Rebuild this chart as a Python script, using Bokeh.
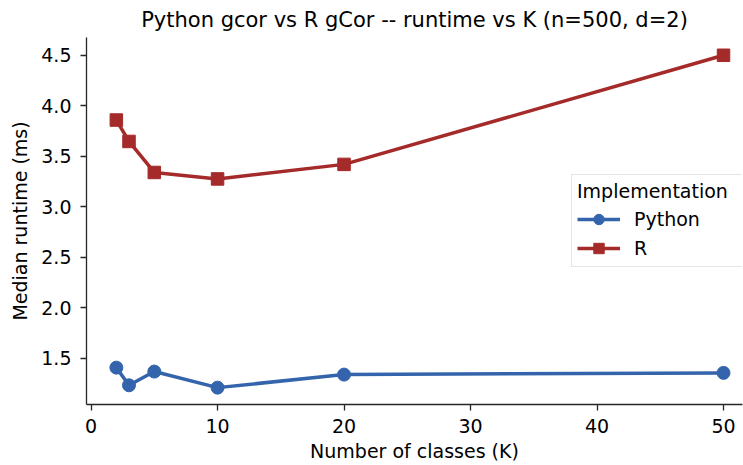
from bokeh.plotting import figure
from bokeh.models import FixedTicker, PrintfTickFormatter, Range1d, Legend, LegendItem
from bokeh.embed import file_html
from bokeh.resources import INLINE

K = [2, 3, 5, 10, 20, 50]
python_ms = [1.408, 1.233, 1.369, 1.210, 1.339, 1.356]
r_ms = [3.859, 3.647, 3.340, 3.276, 3.420, 4.500]
x_ticks = [0, 10, 20, 30, 40, 50]
y_ticks = [1.5, 2.0, 2.5, 3.0, 3.5, 4.0, 4.5]

BLUE = "#3465ac"
RED = "#a52a2a"
FONT = "DejaVu Sans"

p = figure(width=743, height=465, output_backend="svg", toolbar_location=None,
           x_range=Range1d(-0.36, 51.5), y_range=Range1d(1.043, 4.676),
           min_border_left=86, min_border_right=1, min_border_top=37, min_border_bottom=61)
p.title.text = "Python gcor vs R gCor -- runtime vs K (n=500, d=2)"
p.title.align = "center"
p.title.text_font = FONT
p.title.text_font_size = "21px"
p.title.text_font_style = "normal"
p.title.text_color = "#000000"
p.title.standoff = 11

p.outline_line_color = None
p.xgrid.visible = False
p.ygrid.visible = False

for ax in (p.xaxis[0], p.yaxis[0]):
    ax.axis_line_color = "#262626"
    ax.axis_line_width = 1.3
    ax.major_tick_line_color = "#262626"
    ax.major_tick_line_width = 1.3
    ax.major_tick_out = 6
    ax.major_tick_in = 0
    ax.minor_tick_line_color = None
    ax.major_label_text_font = FONT
    ax.major_label_text_font_size = "19px"
    ax.major_label_text_color = "#000000"
    ax.axis_label_text_font = FONT
    ax.axis_label_text_font_size = "19px"
    ax.axis_label_text_font_style = "normal"
    ax.axis_label_text_color = "#000000"

p.xaxis.ticker = FixedTicker(ticks=x_ticks)
p.yaxis.ticker = FixedTicker(ticks=y_ticks)
p.yaxis.formatter = PrintfTickFormatter(format="%.1f")
p.xaxis.axis_label = "Number of classes (K)"
p.yaxis.axis_label = "Median runtime (ms)"
p.xaxis.major_label_standoff = 8
p.yaxis.major_label_standoff = 9
p.xaxis.axis_label_standoff = 4
p.yaxis.axis_label_standoff = 7

l1 = p.line(K, python_ms, line_color=BLUE, line_width=3.5)
s1 = p.scatter(K, python_ms, marker="circle", size=13, fill_color=BLUE, line_color=BLUE)
l2 = p.line(K, r_ms, line_color=RED, line_width=3.5)
s2 = p.scatter(K, r_ms, marker="square", size=12.5, fill_color=RED, line_color=RED)

legend = Legend(items=[LegendItem(label="Python", renderers=[l1, s1]),
                       LegendItem(label="R", renderers=[l2, s2])],
                location=(485, 137))
legend.title = "Implementation"
legend.title_text_font = FONT
legend.title_text_font_size = "19px"
legend.title_text_font_style = "normal"
legend.title_text_color = "#000000"
legend.title_standoff = 4
legend.label_text_font = FONT
legend.label_text_font_size = "19px"
legend.label_text_color = "#000000"
legend.glyph_width = 43
legend.glyph_height = 26
legend.label_height = 26
legend.label_width = 105
legend.spacing = 3
legend.label_standoff = 14
legend.padding = 5
legend.margin = 0
legend.border_line_color = "#cccccc"
legend.border_line_width = 1
legend.background_fill_alpha = 0.8
p.add_layout(legend, "center")

open("out.html", "w").write(file_html(p, INLINE))
